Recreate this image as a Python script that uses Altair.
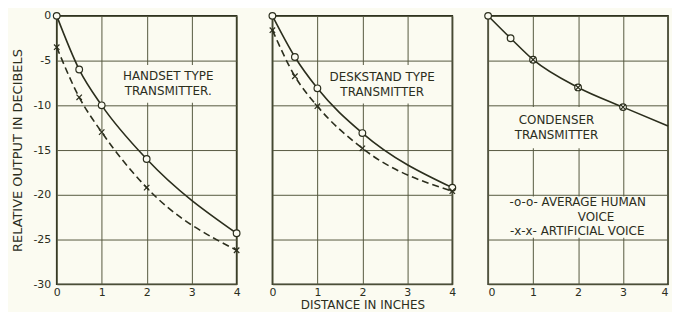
import altair as alt
import pandas as pd

# ---------------- data ----------------
x_main = [0, 0.5, 1, 2, 4]
handset_human = [0, -6.0, -10.0, -16.0, -24.3]
handset_artificial = [-3.5, -9.1, -13.0, -19.2, -26.2]
deskstand_human = [0, -4.6, -8.1, -13.1, -19.2]
deskstand_artificial = [-1.6, -6.75, -10.1, -14.8, -19.6]
x_condenser = [0, 0.5, 1, 2, 3, 4]
condenser_human = [0, -2.5, -4.9, -8.0, -10.2, -12.3]
x_condenser_marks = [0, 0.5, 1, 2, 3]
condenser_human_marks = [0, -2.5, -4.9, -8.0, -10.2]
x_condenser_art = [1, 2, 3]
condenser_artificial = [-4.9, -8.0, -10.2]

x_ticks = [0, 1, 2, 3, 4]
y_ticks = [0, -5, -10, -15, -20, -25, -30]

INK = "#2b2e1d"
GRID = "#56593f"
BG = "#fbfbf1"
FONT = "DejaVu Sans"
W, H = 181, 270


def df(xs, ys):
    return pd.DataFrame({"x": xs, "y": ys})


def enc(show_y_labels, x_title, flush=False):
    xax = alt.Axis(values=x_ticks, grid=True, ticks=False, domain=False,
                   labelPadding=2, titlePadding=2, labelFlush=flush,
                   title=x_title if x_title else "")
    if show_y_labels:
        yax = alt.Axis(values=y_ticks, grid=True, ticks=False, domain=False,
                       labelPadding=6, titlePadding=8,
                       labelExpr="'' + datum.value",
                       title="RELATIVE OUTPUT IN DECIBELS")
    else:
        yax = alt.Axis(values=y_ticks, grid=True, ticks=False, domain=False,
                       labels=False, title="")
    X = alt.X("x:Q", scale=alt.Scale(domain=[0, 4], nice=False, zero=False), axis=xax)
    Y = alt.Y("y:Q", scale=alt.Scale(domain=[-30, 0], nice=False, zero=False), axis=yax)
    return X, Y


def panel(X, Y, solid, dashed, circles, crosses, boxes, texts):
    layers = []
    box_df = pd.DataFrame(boxes)
    layers.append(alt.Chart(box_df).mark_rect(fill=BG, strokeWidth=0).encode(
        x=X, x2="x2:Q", y=Y, y2="y2:Q"))
    layers.append(alt.Chart(solid).mark_line(color=INK, strokeWidth=1.6,
                                             interpolate="monotone").encode(x=X, y=Y))
    if dashed is not None:
        layers.append(alt.Chart(dashed).mark_line(color=INK, strokeWidth=1.6,
                                                  strokeDash=[7, 4],
                                                  interpolate="monotone").encode(x=X, y=Y))
    layers.append(alt.Chart(circles).mark_point(shape="circle", filled=True, fill=BG,
                                                stroke=INK, strokeWidth=1.2, size=45,
                                                opacity=1).encode(x=X, y=Y))
    layers.append(alt.Chart(crosses).mark_point(shape="M-1,-1L1,1M-1,1L1,-1", filled=False,
                                                stroke=INK, strokeWidth=1.2, size=30,
                                                opacity=1).encode(x=X, y=Y))
    text_df = pd.DataFrame(texts)
    layers.append(alt.Chart(text_df).mark_text(font=FONT, color=INK, fontSize=12,
                                               align="center", baseline="middle").encode(
        x=X, y=Y, text="t:N"))
    return alt.layer(*layers).properties(width=W, height=H)


X1, Y1 = enc(True, None)
p1 = panel(X1, Y1,
           df(x_main, handset_human), df(x_main, handset_artificial),
           df(x_main, handset_human), df(x_main, handset_artificial),
           {"x": [1.15], "x2": [3.85], "y": [-5.5], "y2": [-9.7]},
           {"x": [2.48, 2.48], "y": [-6.75, -8.45], "t": ["HANDSET TYPE", "TRANSMITTER."]})

X2, Y2 = enc(False, "DISTANCE IN INCHES")
p2 = panel(X2, Y2,
           df(x_main, deskstand_human), df(x_main, deskstand_artificial),
           df(x_main, deskstand_human), df(x_main, deskstand_artificial),
           {"x": [1.1], "x2": [3.9], "y": [-5.5], "y2": [-9.8]},
           {"x": [2.44, 2.44], "y": [-6.85, -8.55], "t": ["DESKSTAND TYPE", "TRANSMITTER"]})

X3, Y3 = enc(False, None, flush=True)
p3 = panel(X3, Y3,
           df(x_condenser, condenser_human), None,
           df(x_condenser_marks, condenser_human_marks),
           df(x_condenser_art, condenser_artificial),
           {"x": [0.04, 0.04], "x2": [2.8, 3.96], "y": [-10.2, -20.2], "y2": [-14.8, -24.8]},
           {"x": [1.52, 1.52, 1.99, 2.4, 1.98],
            "y": [-11.65, -13.35, -20.85, -22.5, -24.1],
            "t": ["CONDENSER", "TRANSMITTER", "-o-o- AVERAGE HUMAN", "VOICE",
                  "-x-x- ARTIFICIAL VOICE"]})

chart = alt.hconcat(p1, p2, p3, spacing=36, bounds="flush").properties(
    padding={"left": 3, "top": 0, "right": 0, "bottom": 0}
).configure(background=BG).configure_view(
    stroke=INK, strokeWidth=1.6
).configure_axis(
    labelFont=FONT, labelFontSize=11, labelColor=INK,
    titleFont=FONT, titleFontSize=12, titleColor=INK, titleFontWeight="normal",
    gridColor=GRID, gridWidth=1, gridOpacity=1
).configure_axisY(titleFontSize=13)

chart.save("out.html", embed_options={"renderer": "svg", "actions": False})
